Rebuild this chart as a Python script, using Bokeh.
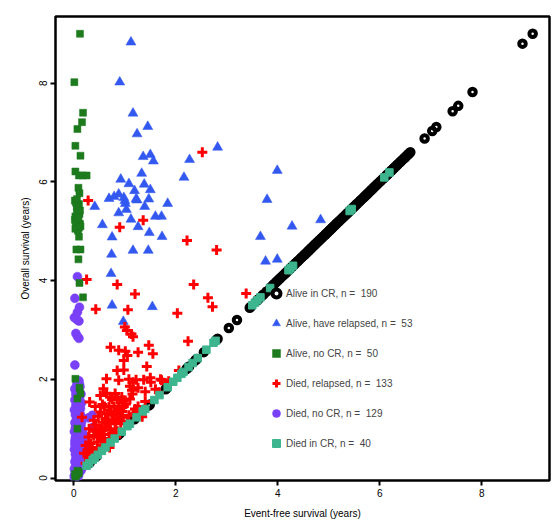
from bokeh.plotting import figure
from bokeh.models import Range1d, Legend, LegendItem, FixedTicker
from bokeh.embed import file_html
from bokeh.resources import INLINE

# ---------------- data (years) ----------------
# Alive in CR: no event, so overall survival equals event-free survival
alive_cr_efs = [0.31, 0.43, 0.45, 0.87, 0.90, 1.19, 1.47, 1.49, 1.80, 1.82, 2.21, 2.23, 2.26,
                2.38, 2.41, 2.55, 2.80, 2.82, 3.04, 3.20, 3.45, 3.47, 3.60, 3.62, 3.70, 3.72,
                3.78, 3.86, 3.90, 3.93, 3.97, 4.00, 4.03, 4.05, 4.08, 4.11, 4.14, 4.16, 4.19,
                4.22, 4.25, 4.27, 4.30, 4.32, 4.35, 4.38, 4.40, 4.43, 4.46, 4.48, 4.51, 4.53,
                4.56, 4.59, 4.61, 4.64, 4.66, 4.69, 4.72, 4.74, 4.77, 4.80, 4.82, 4.85, 4.87,
                4.90, 4.93, 4.95, 4.98, 5.01, 5.03, 5.06, 5.08, 5.11, 5.14, 5.16, 5.19, 5.21,
                5.24, 5.27, 5.29, 5.32, 5.35, 5.37, 5.40, 5.42, 5.45, 5.48, 5.50, 5.53, 5.55,
                5.58, 5.61, 5.63, 5.66, 5.69, 5.71, 5.74, 5.76, 5.79, 5.82, 5.84, 5.87, 5.89,
                5.92, 5.95, 5.97, 6.00, 6.02, 6.05, 6.08, 6.10, 6.13, 6.15, 6.18, 6.21, 6.23,
                6.26, 6.28, 6.31, 6.34, 6.36, 6.39, 6.41, 6.44, 6.47, 6.49, 6.52, 6.55, 6.57,
                6.60, 6.88, 7.03, 7.11, 7.43, 7.54, 7.82, 8.80, 9.00]
alive_cr_os = list(alive_cr_efs)

alive_rel_efs = [1.12, 0.90, 1.16, 1.45, 1.24, 1.36, 1.50, 1.56, 2.27, 2.82, 1.33, 0.92, 2.16,
                 1.08, 1.38, 1.50, 1.19, 0.88, 0.79, 0.69, 0.98, 1.01, 1.24, 1.47, 0.41, 1.84,
                 1.39, 1.03, 0.88, 1.60, 1.72, 1.12, 0.56, 1.26, 1.48, 0.75, 1.73, 1.16, 1.46,
                 0.74, 0.73, 0.75, 1.54, 0.97, 3.99, 3.79, 4.84, 4.28, 3.66, 3.76, 3.99, 1.22,
                 1.00]
alive_rel_os = [8.83, 8.02, 7.39, 7.12, 6.97, 6.51, 6.55, 6.42, 6.45, 6.70, 6.17, 6.05, 6.09,
                5.96, 5.95, 5.84, 5.82, 5.75, 5.70, 5.66, 5.68, 5.56, 5.63, 5.65, 5.50, 5.56,
                5.50, 5.44, 5.37, 5.30, 5.30, 5.24, 5.13, 5.09, 4.97, 4.88, 4.89, 4.61, 4.61,
                4.53, 4.14, 3.50, 3.47, 3.17, 6.23, 5.64, 5.23, 5.10, 4.89, 4.39, 4.43, 5.65,
                5.62]

alive_nocr_efs = [0.12, 0.01, 0.18, 0.16, 0.07, 0.03, 0.13, 0.03, 0.10, 0.17, 0.25, 0.09, 0.11,
                  0.02, 0.10, 0.04, 0.07, 0.11, 0.02, 0.08, 0.12, 0.05, 0.10, 0.08, 0.03, 0.06,
                  0.10, 0.05, 0.13, 0.09, 0.11, 0.18, 0.03, 0.11, 0.07, 0.13, 0.07, 0.09, 0.03,
                  0.05, 0.10, 0.04, 0.09, 0.06, 0.12, 0.03, 0.07, 0.02, 0.13, 0.06]
alive_nocr_os = [9.00, 8.02, 7.40, 7.21, 7.07, 6.73, 6.53, 6.21, 6.13, 6.13, 6.13, 5.88, 5.77,
                 5.62, 5.55, 5.58, 5.38, 5.35, 5.23, 5.20, 5.15, 5.12, 5.07, 5.01, 5.30, 5.45,
                 4.89, 4.63, 4.63, 4.43, 3.95, 3.66, 2.01, 1.83, 1.61, 1.71, 1.00, 0.09, 0.02,
                 0.05, 0.12, 5.18, 5.27, 5.50, 5.42, 5.05, 0.15, 0.08, 5.10, 5.65]

died_rel_efs = [0.28, 0.90, 1.36, 2.22, 2.52, 2.80, 0.25, 0.85, 1.20, 2.35, 0.43, 1.06, 2.03,
                2.63, 2.72, 3.38, 2.24, 1.00, 1.04, 1.13, 1.16, 0.72, 0.88, 1.01, 1.05, 0.98,
                1.26, 1.47, 1.55, 1.43, 0.85, 0.98, 2.06, 0.64, 0.88, 1.08, 1.16, 1.22, 1.37,
                1.50, 1.51, 1.72, 1.86, 1.10, 1.14, 1.26, 0.58, 0.64, 0.81, 0.52, 0.71, 0.75,
                0.85, 0.94, 0.98, 1.67, 0.31, 0.56, 0.69, 0.79, 0.88, 0.98, 1.26, 0.52, 0.65,
                0.75, 0.85, 0.95, 1.08, 0.39, 0.56, 0.69, 0.79, 0.92, 0.50, 0.62, 0.72, 0.81,
                0.29, 0.39, 0.49, 0.59, 0.69, 0.79, 0.23, 0.33, 0.46, 0.55, 0.65, 0.26, 0.36,
                0.46, 0.23, 0.33, 0.16, 1.16, 1.31, 1.34, 0.42, 0.52, 0.60, 0.70, 0.75, 0.85,
                0.90, 0.95, 1.02, 1.10, 0.62, 0.48, 0.42, 0.30, 0.36, 0.40, 0.30, 0.55, 0.66,
                0.82, 1.20, 1.40, 1.60, 1.80, 0.20, 0.60, 1.05, 0.90, 0.95, 0.73, 0.60, 1.15,
                1.40, 0.52, 0.43, 1.70]
died_rel_os = [5.62, 5.08, 5.22, 4.81, 6.60, 4.62, 4.02, 3.92, 3.73, 3.92, 3.42, 3.41, 3.34,
               3.65, 3.47, 3.74, 2.77, 3.06, 2.99, 2.92, 2.86, 2.65, 2.59, 2.57, 2.48, 2.38,
               2.55, 2.69, 2.52, 2.26, 2.18, 2.19, 2.18, 2.01, 1.98, 2.00, 1.94, 1.99, 1.99,
               2.03, 1.94, 1.98, 1.96, 1.86, 1.78, 1.83, 1.81, 1.72, 1.71, 1.67, 1.64, 1.59,
               1.59, 1.64, 1.57, 1.74, 1.54, 1.49, 1.44, 1.45, 1.40, 1.45, 1.45, 1.34, 1.30,
               1.27, 1.30, 1.23, 1.27, 1.17, 1.13, 1.10, 1.17, 1.10, 1.00, 1.03, 0.97, 1.00,
               0.83, 0.86, 0.83, 0.88, 0.80, 0.86, 0.66, 0.70, 0.73, 0.66, 0.70, 0.49, 0.56,
               0.53, 0.30, 0.36, 1.23, 1.30, 1.34, 1.24, 0.95, 0.90, 0.78, 0.62, 0.90, 0.95,
               1.20, 1.35, 1.50, 1.60, 1.20, 1.25, 1.45, 1.00, 0.62, 0.45, 0.42, 0.98, 1.15,
               1.12, 1.40, 1.55, 1.80, 1.92, 0.50, 0.60, 1.15, 0.90, 1.52, 1.35, 1.45, 1.70,
               1.75, 0.60, 1.07, 2.00]

died_nocr_efs = [0.07, 0.02, 0.11, 0.07, 0.01, 0.06, 0.10, 0.04, 0.07, 0.10, 0.02, 0.10, 0.06,
                 0.12, 0.03, 0.09, 0.14, 0.05, 0.11, 0.02, 0.08, 0.15, 0.04, 0.10, 0.13, 0.01,
                 0.06, 0.12, 0.03, 0.09, 0.16, 0.05, 0.11, 0.02, 0.08, 0.14, 0.38, 0.04, 0.10,
                 0.17, 0.01, 0.07, 0.13, 0.20, 0.04, 0.10, 0.16, 0.02, 0.08, 0.14, 0.22, 0.05,
                 0.11, 0.18, 0.01, 0.07, 0.13, 0.25, 0.03, 0.09, 0.16, 0.21, 0.05, 0.11, 0.02,
                 0.15, 0.08, 0.20, 0.04, 0.12, 0.17, 0.01, 0.07, 0.14, 0.03, 0.10, 0.06, 0.02,
                 0.09, 0.04, 0.01, 0.29, 0.06, 0.12, 0.07, 0.18, 0.05, 0.13, 0.24, 0.15, 0.08,
                 0.11, 0.03, 0.14, 0.09, 0.27, 0.19, 0.06, 0.10, 0.04, 0.16, 0.36, 0.12, 0.05,
                 0.09, 0.13, 0.02, 0.07, 0.11, 0.15, 0.03, 0.08, 0.12, 0.06, 0.10, 0.04, 0.14,
                 0.17, 0.02, 0.08, 0.05, 0.11, 0.13, 0.07, 0.09, 0.03, 0.06, 0.12, 0.01]
died_nocr_os = [4.08, 3.64, 3.46, 3.36, 3.25, 3.21, 3.18, 2.93, 2.87, 2.83, 2.29, 1.97, 1.90,
                1.85, 1.78, 1.74, 1.70, 1.66, 1.62, 1.58, 1.55, 1.52, 1.48, 1.45, 1.41, 1.38,
                1.35, 1.31, 1.28, 1.24, 1.21, 1.18, 1.15, 1.12, 1.09, 1.06, 1.03, 1.02, 0.99,
                0.96, 0.94, 0.91, 0.88, 0.85, 0.83, 0.80, 0.77, 0.75, 0.72, 0.69, 0.67, 0.65,
                0.62, 0.60, 0.58, 0.55, 0.52, 0.50, 0.48, 0.45, 0.43, 0.41, 0.38, 0.36, 0.33,
                0.32, 0.30, 0.28, 0.25, 0.23, 0.21, 0.19, 0.17, 0.15, 0.12, 0.10, 0.07, 0.05,
                0.04, 0.02, 0.01, 1.22, 1.60, 1.10, 0.85, 0.55, 0.20, 0.40, 0.33, 0.90, 1.30,
                1.90, 1.02, 0.62, 0.15, 0.44, 0.70, 0.45, 1.50, 1.70, 1.23, 1.27, 0.57, 0.35,
                0.27, 0.73, 0.68, 0.93, 1.42, 1.13, 0.82, 0.47, 0.26, 1.05, 0.63, 0.39, 0.52,
                0.31, 1.81, 1.36, 0.09, 0.78, 0.58, 1.16, 0.22, 0.14, 0.87, 0.42, 0.05]

died_cr_efs = [0.25, 0.37, 0.41, 0.55, 0.72, 0.94, 1.05, 1.23, 1.35, 1.58, 1.68, 1.84, 2.03,
               2.11, 2.25, 2.33, 2.43, 2.74, 2.78, 3.50, 3.60, 3.66, 3.85, 4.21, 4.30, 5.41,
               6.09, 6.19, 0.30, 0.47, 0.62, 0.80, 1.10, 1.40, 1.95, 2.15, 2.60, 3.55, 4.25,
               5.45]
died_cr_os = list(died_cr_efs)

labels = ["Alive in CR, n =  190", "Alive, have relapsed, n =  53", "Alive, no CR, n =  50",
          "Died, relapsed, n =  133", "Died, no CR, n =  129", "Died in CR, n =  40"]
x_ticks = [0, 2, 4, 6, 8]
y_ticks = [0, 2, 4, 6, 8]

FONT = "Liberation Sans"

p = figure(width=556, height=524, output_backend="svg", toolbar_location=None,
           x_range=Range1d(-0.36, 9.33), y_range=Range1d(-0.05, 9.35),
           min_border_left=55, min_border_right=7, min_border_top=16, min_border_bottom=44)
p.grid.visible = False
p.outline_line_color = "black"
p.outline_line_width = 2.5
p.background_fill_color = "white"
p.border_fill_color = "white"

for ax in (p.xaxis[0], p.yaxis[0]):
    ax.axis_line_color = None
    ax.major_tick_out = 5
    ax.major_tick_in = 0
    ax.minor_tick_line_color = None
    ax.major_tick_line_width = 2
    ax.major_label_text_font = FONT
    ax.major_label_text_font_size = "10px"
    ax.major_label_text_color = "black"
    ax.axis_label_text_font = FONT
    ax.axis_label_text_font_size = "10px"
    ax.axis_label_text_font_style = "normal"
    ax.axis_label_text_color = "black"
    ax.major_label_standoff = 3

p.xaxis.ticker = FixedTicker(ticks=x_ticks)
p.yaxis.ticker = FixedTicker(ticks=y_ticks)
p.yaxis.major_label_orientation = "vertical"
p.xaxis.axis_label = "Event-free survival (years)"
p.yaxis.axis_label = "Overall survival (years)"
p.xaxis.axis_label_standoff = 8
p.yaxis.axis_label_standoff = 6

r_black = p.scatter(alive_cr_efs, alive_cr_os, marker="circle", size=6.5, fill_color=None,
                    line_color="black", line_width=4)
r_blue = p.scatter(alive_rel_efs, alive_rel_os, marker="triangle", size=10,
                   fill_color="#3358F0", line_color="#3358F0", line_width=0.5)
r_purple = p.scatter(died_nocr_efs, died_nocr_os, marker="circle", size=9,
                     fill_color="#7A40F8", line_color="#7A40F8", line_width=0.5)
r_red = p.scatter(died_rel_efs, died_rel_os, marker="cross", size=10,
                  line_color="#FF0000", line_width=3)
r_green = p.scatter(alive_nocr_efs, alive_nocr_os, marker="square", size=7,
                    fill_color="#1D7A1D", line_color="#1D7A1D", line_width=0.5)
r_teal = p.scatter(died_cr_efs, died_cr_os, marker="square", size=7.5,
                   fill_color="#3DB58E", line_color="#3DB58E", line_width=1)

legend = Legend(items=[LegendItem(label=labels[0], renderers=[r_black]),
                       LegendItem(label=labels[1], renderers=[r_blue]),
                       LegendItem(label=labels[2], renderers=[r_green]),
                       LegendItem(label=labels[3], renderers=[r_red]),
                       LegendItem(label=labels[4], renderers=[r_purple]),
                       LegendItem(label=labels[5], renderers=[r_teal])],
                location=(211, 27), padding=0, margin=0, spacing=10,
                glyph_width=20, glyph_height=20, label_height=20, label_standoff=0,
                label_text_font=FONT, label_text_font_size="10px",
                border_line_color=None, background_fill_alpha=0)
p.add_layout(legend)

open("out.html", "w").write(file_html(p, INLINE))
